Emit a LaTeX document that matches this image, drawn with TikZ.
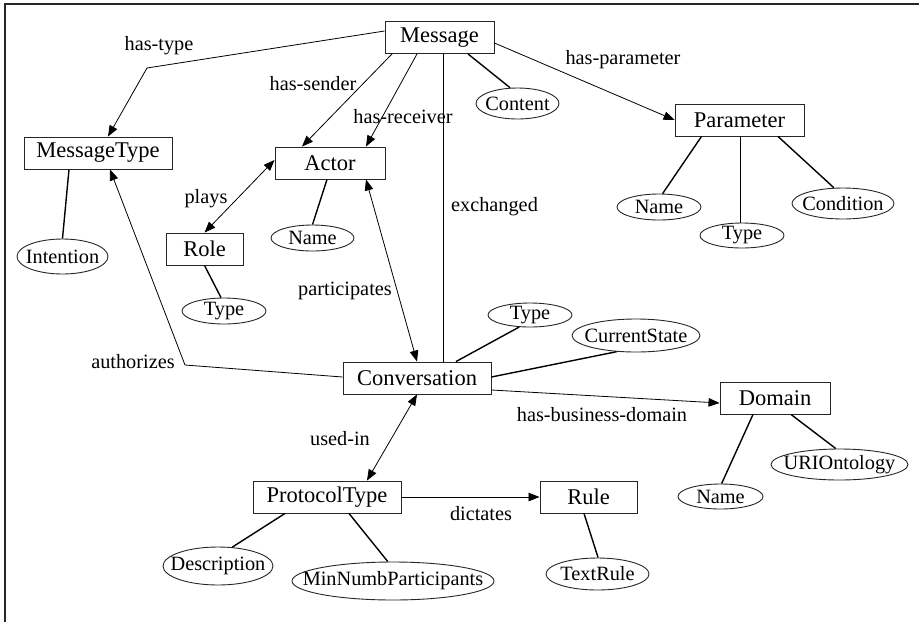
\documentclass[tikz,border=0pt]{standalone}
\usepackage{fontspec}
\setmainfont{Liberation Serif}
\usetikzlibrary{arrows.meta,shapes.geometric}
\newcommand\bxfont{\fontsize{22.5}{26}\selectfont}
\newcommand\lbfont{\fontsize{20.3}{24}\selectfont}
\begin{document}
\begin{tikzpicture}[x=1pt,y=-1pt,
  entity/.style={draw=black!85,line width=0.9pt,rectangle,minimum height=32pt,inner sep=0pt,font=\bxfont},
  attr/.style={draw=black!85,line width=0.9pt,ellipse,inner sep=0pt,
    label={[font=\lbfont,inner sep=0pt]center:#1}},
  rel/.style={line width=0.8pt,-{Triangle[length=11pt,width=8.5pt]}},
  birel/.style={line width=0.8pt,{Triangle[length=11pt,width=8.5pt]}-{Triangle[length=11pt,width=8.5pt]}},
  plain/.style={line width=0.8pt},
  link/.style={line width=1.4pt},
  lbl/.style={font=\lbfont,inner sep=0pt}]
\useasboundingbox (0,0) rectangle (919,622);
% frame
\draw[line width=2pt,black!85] (919,4) -- (5,4) -- (5,622);

% entities
\node[entity,minimum width=109pt] (msg)   at (439.5,37.5) {Message};
\node[entity,minimum width=148pt] (mt)    at (98,153) {MessageType};
\node[entity,minimum width=110pt] (actor) at (330,163) {Actor};
\node[entity,minimum width=77pt]  (role)  at (204.5,249) {Role};
\node[entity,minimum width=129pt] (param) at (739.5,120) {Parameter};
\node[entity,minimum width=148pt] (conv)  at (417,378) {Conversation};
\node[entity,minimum width=110pt] (dom)   at (775,398) {Domain};
\node[entity,minimum width=148pt] (proto) at (327,497) {ProtocolType};
\node[entity,minimum width=97pt]  (rule)  at (588.5,497) {Rule};

% attributes (ellipse size fixed, text set as a centred label)
\node[attr=Intention,minimum width=91pt,minimum height=35pt]  (intent)  at (62.5,256.5) {};
\node[attr=Name,minimum width=83pt,minimum height=26pt]       (aname)   at (312.5,238) {};
\node[attr=Type,minimum width=84pt,minimum height=26pt]       (rtype)   at (224,311) {};
\node[attr=Content,minimum width=83pt,minimum height=31pt]    (content) at (517.5,103.5) {};
\node[attr=Name,minimum width=84pt,minimum height=26pt]       (pname)   at (659,207) {};
\node[attr=Type,minimum width=84pt,minimum height=25pt]       (ptype)   at (742,235.5) {};
\node[attr=Condition,minimum width=102pt,minimum height=31pt] (cond)    at (843,203.5) {};
\node[attr=Type,minimum width=84pt,minimum height=24pt]       (ctype)   at (530,315) {};
\node[attr=CurrentState,minimum width=128pt,minimum height=33pt] (cstate) at (636,335.5) {};
\node[attr=Name,minimum width=85pt,minimum height=25pt]       (dname)   at (720.5,496.5) {};
\node[attr=URIOntology,minimum width=137pt,minimum height=31pt] (uri)   at (839.5,464.5) {};
\node[attr=TextRule,minimum width=103pt,minimum height=32pt]  (trule)   at (597.5,574) {};
\node[attr=Description,minimum width=110pt,minimum height=38pt] (desc)  at (218,566) {};
\node[attr=MinNumbParticipants,minimum width=202pt,minimum height=38pt] (minnp) at (393,581) {};

% relationships
\coordinate (typebend) at (147,68);
\coordinate (authbend) at (185,365);
\draw[rel] ([yshift=6.5pt]msg.west) -- (typebend) -- ([xshift=10pt]mt.north);
\draw[rel] ([xshift=-47.5pt]msg.south) -- ([xshift=-28pt]actor.north);
\draw[rel] ([xshift=-22.5pt]msg.south) -- ([xshift=36pt]actor.north);
\draw[plain] ([xshift=3.5pt]msg.south) -- ([xshift=26pt]conv.north);
\draw[rel] ([yshift=-5.5pt]msg.east) -- (param.west);
\draw[birel] ([yshift=3pt]actor.west) -- (role.north);
\draw[birel] ([xshift=36pt]actor.south) -- (conv.north);
\draw[rel] ([yshift=1pt]conv.west) -- (authbend) -- ([xshift=12pt]mt.south);
\draw[rel] ([yshift=-12pt]conv.east) -- ([yshift=-5pt]dom.west);
\draw[birel] (conv.south) -- ([xshift=40pt]proto.north);
\draw[rel] (proto.east) -- (rule.west);

% attribute links
\draw[link] ([xshift=-29pt]mt.south) -- (intent.north);
\draw[link] ([xshift=-3pt]actor.south) -- (aname.north);
\draw[link] (role.south) -- ([xshift=-3pt]rtype.north);
\draw[link] ([xshift=28.5pt]msg.south) -- (content.115);
\draw[link] ([xshift=-38pt]param.south) -- (pname.75);
\draw[link] ([xshift=1pt]param.south) -- ([xshift=-1.5pt]ptype.north);
\draw[link] ([xshift=38.5pt]param.south) -- (cond.120);
\draw[link] ([xshift=39pt]conv.north) -- (ctype.228);
\draw[link] ([yshift=1pt]conv.east) -- (cstate.220);
\draw[link] ([xshift=-22pt]dom.south) -- (dname.85);
\draw[link] ([xshift=16pt]dom.south) -- (uri.103);
\draw[link] ([xshift=-4.5pt]rule.south) -- (trule.88);
\draw[link] ([xshift=-42pt]proto.south) -- (desc.53);
\draw[link] ([xshift=22pt]proto.south) -- (minnp.105);

% relationship labels
\node[lbl] (l1)  at (159,46)   {has-type};
\node[lbl] (l2)  at (313,84)   {has-sender};
\node[lbl] (l3)  at (403,117)  {has-receiver};
\node[lbl] (l4)  at (494.5,207){exchanged};
\node[lbl] (l5)  at (623,60)   {has-parameter};
\node[lbl] (l6)  at (206,199)  {plays};
\node[lbl] (l7)  at (345,291)  {participates};
\node[lbl] (l8)  at (133,362)  {authorizes};
\node[lbl] (l9)  at (602,415)  {has-business-domain};
\node[lbl] (l10) at (340,439)  {used-in};
\node[lbl] (l11) at (481,514)  {dictates};
\end{tikzpicture}
\end{document}
